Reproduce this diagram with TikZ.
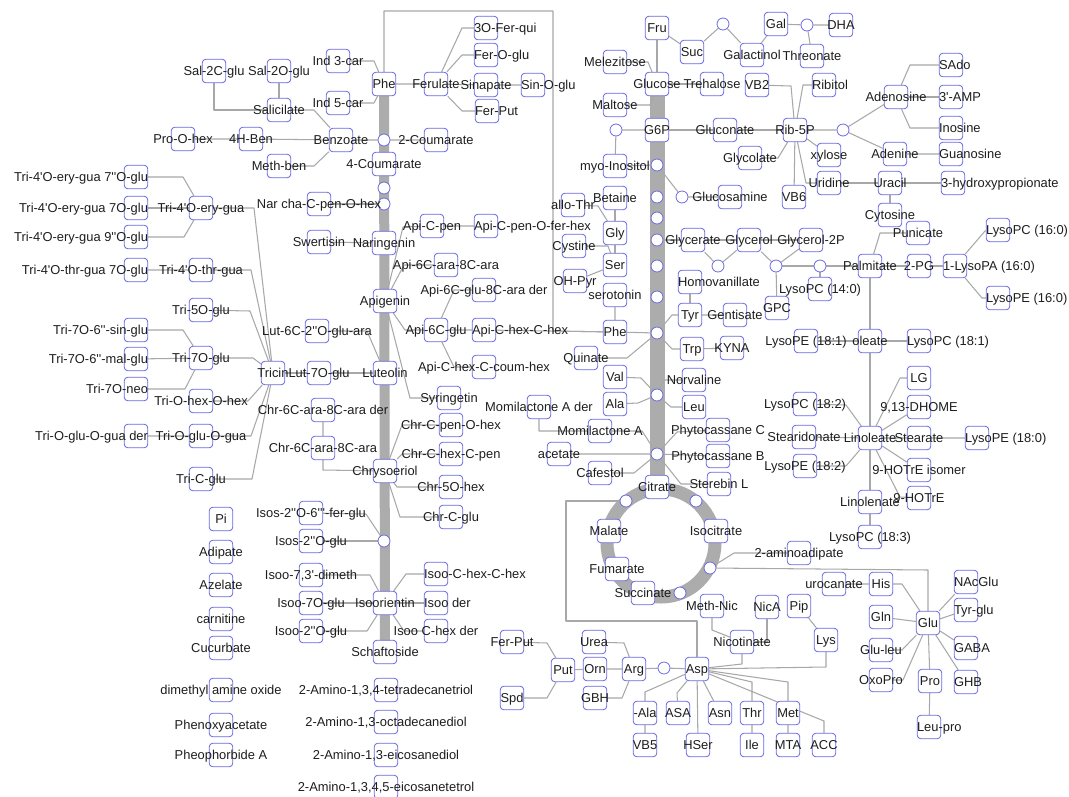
\documentclass[tikz,border=0pt]{standalone}
\usepackage{fontspec}
\setmainfont{Liberation Sans}[Ligatures=TeXOff]
\definecolor{nodeblue}{RGB}{105,105,225}
\definecolor{edgegray}{RGB}{168,168,168}
\definecolor{bargray}{RGB}{172,172,172}
\definecolor{txt}{RGB}{30,30,30}
\pgfdeclarelayer{bg}
\pgfdeclarelayer{boxes}
\pgfsetlayers{bg,boxes,main}
\newcommand\fs{\fontsize{12.9}{14}\selectfont}
\newcommand\mkC[3]{\begin{pgfonlayer}{boxes}\node[box] (#1) at (#2) {};\end{pgfonlayer}\node[lab] (#1-t) at (#1.center) {#3};}
\newcommand\mkL[3]{\begin{pgfonlayer}{boxes}\node[box] (#1) at (#2) {};\end{pgfonlayer}\node[lab,anchor=west] (#1-t) at (#1.west) {#3};}
\newcommand\mkR[3]{\begin{pgfonlayer}{boxes}\node[box] (#1) at (#2) {};\end{pgfonlayer}\node[lab,anchor=east] (#1-t) at (#1.east) {#3};}
\newcommand\mkD[2]{\begin{pgfonlayer}{boxes}\node[dot] (#1) at (#2) {};\end{pgfonlayer}}
\begin{document}
\begin{tikzpicture}[x=1pt,y=-1pt,
 box/.style={rectangle, draw=nodeblue, line width=0.8pt, fill=white, rounded corners=3.5pt, minimum width=23.5pt, minimum height=23.5pt, inner sep=0pt},
 dot/.style={circle, draw=nodeblue, line width=0.8pt, fill=white, minimum size=12pt, inner sep=0pt},
 lab/.style={font=\fs, text=txt, inner sep=0pt, text height=9.2pt, text depth=0pt},
 conn/.style={draw=edgegray, line width=1.05pt, line join=round},
 bar/.style={draw=bargray, line cap=butt}]
\useasboundingbox (0,0) rectangle (1069,796);
% ---------- left part ----------
\mkC{Sal2C}{214,71}{Sal-2C-glu}
\mkC{Sal2O}{279,71}{Sal-2O-glu}
\mkC{Salic}{279,110}{Salicilate}
\mkC{ProOhex}{183,139}{Pro-O-hex}
\mkC{HBen}{251,139}{4H-Ben}
\mkC{Benz}{341,140}{Benzoate}
\mkC{Methben}{279,166}{Meth-ben}
\mkC{Ind3}{338,61}{Ind 3-car}
\mkC{Ind5}{338,103}{Ind 5-car}
\mkC{PheL}{384,84}{Phe}
\mkC{Ferul}{436,84}{Ferulate}
\mkC{Sinap}{486,85}{Sinapate}
\mkL{SinOglu}{533,85}{Sin-O-glu}
\mkL{OFerqui}{486,28}{3O-Fer-qui}
\mkL{FerOglu}{486,55}{Fer-O-glu}
\mkL{FerPutA}{487,111}{Fer-Put}
\mkD{cA}{384,140}
\mkC{Coum2}{436,140}{2-Coumarate}
\mkC{Coum4}{384,164}{4-Coumarate}
\mkD{cB}{384,188}
\mkD{cC}{384,204}
\mkC{Narcha}{319,204}{Nar cha-C-pen-O-hex}
\mkC{Swert}{319,242}{Swertisin}
\mkC{Narin}{384,243}{Naringenin}
\mkC{ApiCpen}{432,226}{Api-C-pen}
\mkL{ApiCpenO}{486,226}{Api-C-pen-O-fer-hex}
\mkC{Api6C8C}{446,265}{Api-6C-ara-8C-ara}
\mkC{Apig}{385,301}{Apigenin}
\mkC{Api6Cglu8}{484,290}{Api-6C-glu-8C-ara der}
\mkC{Api6Cglu}{436,330}{Api-6C-glu}
\mkL{ApiChex}{484,330}{Api-C-hex-C-hex}
\mkC{ApiChexCc}{484,367}{Api-C-hex-C-coum-hex}
\mkC{LutGA}{317,331}{Lut-6C-2''O-glu-ara}
\mkC{Lut7O}{319,373}{Lut-7O-glu}
\mkC{Lute}{385,373}{Luteolin}
\mkC{Syrin}{449,398}{Syringetin}
\mkC{Tricin}{273,373}{Tricin}
\mkR{Tri4Oe7}{136,177}{Tri-4'O-ery-gua 7''O-glu}
\mkR{Tri4Oe7O}{136,208}{Tri-4'O-ery-gua 7O-glu}
\mkR{Tri4Oe9}{136,237}{Tri-4'O-ery-gua 9''O-glu}
\mkC{Tri4Oe}{201,208}{Tri-4'O-ery-gua}
\mkR{Tri4Ot7}{136,270}{Tri-4'O-thr-gua 7O-glu}
\mkC{Tri4Ot}{201,270}{Tri-4'O-thr-gua}
\mkC{Tri5O}{201,310}{Tri-5O-glu}
\mkR{Tri7Osin}{136,330}{Tri-7O-6''-sin-glu}
\mkR{Tri7Omal}{136,359}{Tri-7O-6''-mal-glu}
\mkR{Tri7Oneo}{136,389}{Tri-7O-neo}
\mkC{Tri7O}{201,358}{Tri-7O-glu}
\mkC{TriOhex}{201,401}{Tri-O-hex-O-hex}
\mkR{TriOgluder}{136,436}{Tri-O-glu-O-gua der}
\mkC{TriOglu}{201,436}{Tri-O-glu-O-gua}
\mkC{TriCglu}{201,479}{Tri-C-glu}
\mkC{Chr6Cder}{323,410}{Chr-6C-ara-8C-ara der}
\mkC{Chr6C}{323,448}{Chr-6C-ara-8C-ara}
\mkC{Chryso}{385,471}{Chrysoeriol}
\mkC{ChrCpen}{451,425}{Chr-C-pen-O-hex}
\mkC{ChrChex}{451,454}{Chr-C-hex-C-pen}
\mkC{Chr5O}{451,487}{Chr-5O-hex}
\mkC{ChrCglu}{451,517}{Chr-C-glu}
\mkC{Isos2O6}{311,513}{Isos-2''O-6'''-fer-glu}
\mkC{Isos2O}{311,541}{Isos-2''O-glu}
\mkD{cD}{384,541}
\mkC{Isoo73}{311,575}{Isoo-7,3'-dimeth}
\mkC{Isoor}{385,603}{Isoorientin}
\mkC{Isoo7O}{311,603}{Isoo-7O-glu}
\mkC{Isoo2O}{311,631}{Isoo-2''O-glu}
\mkL{IsooChex}{436,574}{Isoo-C-hex-C-hex}
\mkL{Isooder}{436,603}{Isoo der}
\mkC{IsooCder}{436,631}{Isoo C-hex der}
\mkC{Schaf}{385,652}{Schaftoside}
\mkC{Am1}{386,690}{2-Amino-1,3,4-tetradecanetriol}
\mkC{Am2}{386,722}{2-Amino-1,3-octadecanediol}
\mkC{Am3}{386,755}{2-Amino-1,3-eicosanediol}
\mkC{Am4}{386,787}{2-Amino-1,3,4,5-eicosanetetrol}
\mkC{Pi}{221,519}{Pi}
\mkC{Adipate}{221,552}{Adipate}
\mkC{Azelate}{221,585}{Azelate}
\mkC{carnitine}{221,619}{carnitine}
\mkC{Cucurbate}{221,648}{Cucurbate}
\mkC{DMAO}{221,690}{dimethyl amine oxide}
\mkC{Phenoxy}{221,725}{Phenoxyacetate}
\mkC{Pheo}{221,755}{Pheophorbide A}
% ---------- right part ----------
\mkC{Fru}{657,28}{Fru}
\mkC{Suc}{692,52}{Suc}
\mkD{cE}{723,24}
\mkC{Gal}{776,24}{Gal}
\mkC{Galact}{752,55}{Galactinol}
\mkD{cF}{807,25}
\mkC{DHA}{841,25}{DHA}
\mkC{Threo}{812,56}{Threonate}
\mkC{Melez}{615,62}{Melezitose}
\mkC{Gluc}{657,84}{Glucose}
\mkC{Treh}{712,84}{Trehalose}
\mkC{VB2}{757,85}{VB2}
\mkL{Ribitol}{824,85}{Ribitol}
\mkC{Maltose}{615,105}{Maltose}
\mkC{G6P}{657,130}{G6P}
\mkD{cG}{616,130}
\mkC{Glucon}{725,130}{Gluconate}
\mkC{Rib5P}{795,130}{Rib-5P}
\mkD{cH}{843,130}
\mkC{Adenos}{896,97}{Adenosine}
\mkL{SAdo}{951,65}{SAdo}
\mkL{AMP}{951,97}{3'-AMP}
\mkL{Inosine}{951,128}{Inosine}
\mkC{Adenine}{895,154}{Adenine}
\mkL{Guanos}{951,154}{Guanosine}
\mkC{Glycol}{750,158}{Glycolate}
\mkC{xylose}{829,155}{xylose}
\mkC{VB6}{794,197}{VB6}
\mkC{Uridine}{829,183}{Uridine}
\mkC{Uracil}{890,183}{Uracil}
\mkL{HPA}{953,183}{3-hydroxypropionate}
\mkC{Cytosine}{890,215}{Cytosine}
\mkC{myo}{615,166}{myo-Inositol}
\mkD{cI}{657,165}
\mkD{cJ}{682,197}
\mkC{Glucosam}{730,197}{Glucosamine}
\mkC{Betaine}{615,198}{Betaine}
\mkC{alloThr}{573,205}{allo-Thr}
\mkC{Gly}{615,233}{Gly}
\mkC{Cystine}{574,246}{Cystine}
\mkC{Ser}{615,265}{Ser}
\mkD{cK}{657,197}
\mkD{cL}{657,218}
\mkD{cM}{657,240}
\mkD{cN}{657,266}
\mkC{Glycerate}{693,240}{Glycerate}
\mkC{Glycerol}{749,240}{Glycerol}
\mkC{Glyc2P}{811,240}{Glycerol-2P}
\mkD{cO}{718,266}
\mkD{cP}{776,266}
\mkD{cQ}{820,266}
\mkC{Palmit}{870,266}{Palmitate}
\mkC{Punic}{918,233}{Punicate}
\mkC{PG}{919,266}{2-PG}
\mkL{LPA}{955,266}{1-LysoPA (16:0)}
\mkL{LPC160}{998,230}{LysoPC (16:0)}
\mkL{LPE160}{998,298}{LysoPE (16:0)}
\mkC{LPC140}{820,289}{LysoPC (14:0)}
\mkC{GPC}{777,308}{GPC}
\mkC{OHPyr}{575,281}{OH-Pyr}
\mkC{seroto}{615,295}{serotonin}
\mkD{cR}{657,297}
\mkC{PheR}{615,332}{Phe}
\mkD{cS}{657,333}
\mkC{Quinate}{586,358}{Quinate}
\mkL{Homov}{690,282}{Homovanillate}
\mkC{Tyr}{690,315}{Tyr}
\mkC{Gentis}{735,315}{Gentisate}
\mkC{Trp}{692,349}{Trp}
\mkC{KYNA}{732,348}{KYNA}
\mkC{Val}{615,377}{Val}
\mkC{Ala}{615,404}{Ala}
\mkD{cT}{657,395}
\mkC{Norval}{694,380}{Norvaline}
\mkC{Leu}{694,407}{Leu}
\mkC{PhytoC}{718,430}{Phytocassane C}
\mkC{MomAder}{539,407}{Momilactone A der}
\mkC{MomA}{600,431}{Momilactone A}
\mkC{acetate}{559,454}{acetate}
\mkD{cU}{657,454}
\mkC{PhytoB}{718,456}{Phytocassane B}
\mkC{Cafestol}{600,473}{Cafestol}
\mkC{Sterebin}{719,484}{Sterebin L}
\mkC{Citrate}{657,487}{Citrate}
\mkD{cV}{626,501}
\mkD{cW}{696,501}
\mkC{Malate}{609,531}{Malate}
\mkC{Isocit}{716,531}{Isocitrate}
\mkC{Fumarate}{617,569}{Fumarate}
\mkC{Succin}{643,593}{Succinate}
\mkD{cX}{680,593}
\mkD{cY}{710,568}
\mkC{Aminoad}{799,553}{2-aminoadipate}
\mkC{LPE181}{806,341}{LysoPE (18:1)}
\mkC{oleate}{870,341}{oleate}
\mkL{LPC181}{919,341}{LysoPC (18:1)}
\mkC{LPC182}{805,404}{LysoPC (18:2)}
\mkC{Stearid}{804,437}{Stearidonate}
\mkC{LPE182}{805,466}{LysoPE (18:2)}
\mkC{Linole}{870,438}{Linoleate}
\mkC{LG}{919,378}{LG}
\mkC{DHOME}{919,407}{9,13-DHOME}
\mkC{Stearate}{919,438}{Stearate}
\mkL{LPE180}{977,438}{LysoPE (18:0)}
\mkC{HOTrEi}{919,470}{9-HOTrE isomer}
\mkC{HOTrE}{919,498}{9-HOTrE}
\mkC{Linolen}{870,502}{Linolenate}
\mkC{LPC183}{870,537}{LysoPC (18:3)}
\mkC{MethNic}{712,606}{Meth-Nic}
\mkC{NicA}{767,607}{NicA}
\mkC{Nicot}{742,642}{Nicotinate}
\mkC{Pip}{799,606}{Pip}
\mkC{Lys}{826,640}{Lys}
\mkC{urocan}{834,584}{urocanate}
\mkC{His}{881,584}{His}
\mkC{Gln}{881,617}{Gln}
\mkC{Gluleu}{881,650}{Glu-leu}
\mkC{OxoPro}{881,680}{OxoPro}
\mkC{Glu}{928,623}{Glu}
\mkC{Pro}{930,681}{Pro}
\mkL{Leupro}{929,727}{Leu-pro}
\mkL{NAcGlu}{966,582}{NAcGlu}
\mkL{Tyrglu}{966,610}{Tyr-glu}
\mkL{GABA}{966,648}{GABA}
\mkL{GHB}{966,682}{GHB}
\mkC{FerPutB}{512,642}{Fer-Put}
\mkC{Spd}{512,698}{Spd}
\mkC{Put}{563,670}{Put}
\mkC{Urea}{594,642}{Urea}
\mkC{Orn}{595,669}{Orn}
\mkC{GBH}{595,698}{GBH}
\mkC{Arg}{634,669}{Arg}
\mkD{cZ}{664,668}
\mkC{Asp}{697,669}{Asp}
\mkC{bAla}{645,713}{-Ala}
\mkC{VB5}{645,745}{VB5}
\mkC{ASA}{678,713}{ASA}
\mkC{HSer}{698,745}{HSer}
\mkC{Asn}{720,713}{Asn}
\mkC{Thr}{752,713}{Thr}
\mkC{Ile}{752,745}{Ile}
\mkC{Met}{788,713}{Met}
\mkC{MTA}{788,745}{MTA}
\mkC{ACC}{824,745}{ACC}
% ---------- background: bars and connectors ----------
\begin{pgfonlayer}{bg}
\fill[white] (0,0) rectangle (1069,796);
\draw[bar, line width=10pt] (PheL.center) -- (Schaf.center);
\draw[bar, line width=15pt] (Gluc.center) -- (Citrate.center);
\draw[bar, line width=13pt] (661,543) circle [radius=54pt];
% left
\draw[conn] (Sal2C) -- (214,110) -- (Salic);
\draw[conn] (Sal2O) -- (Salic);
\draw[conn] (Salic) -- (314,110) -- (Benz);
\draw[conn] (Methben) -- (314,166) -- (Benz);
\draw[conn] (ProOhex) -- (HBen) -- (Benz) -- (cA) -- (Coum2);
\draw[conn] (Ind3) -- (374,61) -- (PheL);
\draw[conn] (Ind5) -- (374,103) -- (PheL);
\draw[conn] (PheL) -- (Ferul) -- (Sinap) -- (SinOglu);
\draw[conn] (Ferul) -- (462,28) -- (OFerqui);
\draw[conn] (Ferul) -- (462,55) -- (FerOglu);
\draw[conn] (Ferul) -- (462,111) -- (FerPutA);
\draw[conn] (PheL) -- (384,11) -- (553,11) -- (553,331) -- (PheR);
\draw[conn] (Narcha) -- (cC);
\draw[conn] (Swert) -- (Narin);
\draw[conn] (Apig) -- (403,227) -- (ApiCpen) -- (ApiCpenO);
\draw[conn] (Apig) -- (404,265) -- (Api6C8C);
\draw[conn] (Apig) -- (405,330) -- (Api6Cglu);
\draw[conn] (Api6Cglu) -- (454,290) -- (Api6Cglu8);
\draw[conn] (Api6Cglu) -- (ApiChex) -- (PheR);
\draw[conn] (Api6Cglu) -- (454,367) -- (ApiChexCc);
\draw[conn] (Apig) -- (410,398) -- (Syrin);
\draw[conn] (LutGA) -- (367,331) -- (Lute);
\draw[conn] (Tricin) -- (Lut7O) -- (Lute);
\draw[conn] (Tri4Oe7) -- (183,177) -- (Tri4Oe);
\draw[conn] (Tri4Oe7O) -- (Tri4Oe);
\draw[conn] (Tri4Oe9) -- (184,237) -- (Tri4Oe);
\draw[conn] (Tri4Oe) -- (254,208) -- (Tricin);
\draw[conn] (Tri4Ot7) -- (Tri4Ot) -- (251,270) -- (Tricin);
\draw[conn] (Tri5O) -- (250,311) -- (Tricin);
\draw[conn] (Tri7Osin) -- (183,330) -- (Tri7O);
\draw[conn] (Tri7Omal) -- (Tri7O);
\draw[conn] (Tri7Oneo) -- (185,389) -- (Tri7O);
\draw[conn] (Tri7O) -- (253,358) -- (Tricin);
\draw[conn] (TriOhex) -- (248,401) -- (Tricin);
\draw[conn] (TriOgluder) -- (TriOglu) -- (251,436) -- (Tricin);
\draw[conn] (TriCglu) -- (252,479) -- (Tricin);
\draw[conn] (Chr6Cder) -- (Chr6C) -- (323,470) -- (Chryso);
\draw[conn] (Chryso) -- (402,425) -- (ChrCpen);
\draw[conn] (Chryso) -- (402,454) -- (ChrChex);
\draw[conn] (Chryso) -- (397,487) -- (Chr5O);
\draw[conn] (Chryso) -- (400,517) -- (ChrCglu);
\draw[conn] (Isos2O6) -- (366,514) -- (cD);
\draw[conn] (Isos2O) -- (cD);
\draw[conn] (Isoo73) -- (370,575) -- (Isoor);
\draw[conn] (Isoo7O) -- (Isoor) -- (Isooder);
\draw[conn] (Isoo2O) -- (367,631) -- (Isoor);
\draw[conn] (Isoor) -- (406,574) -- (IsooChex);
\draw[conn] (Isoor) -- (404,631) -- (IsooCder);
% right
\draw[conn] (Fru) -- (Gluc);
\draw[conn] (Fru) -- (Suc) -- (cE) -- (Galact);
\draw[conn] (Gal) -- (Galact);
\draw[conn] (Gal) -- (cF) -- (DHA);
\draw[conn] (cF) -- (Threo);
\draw[conn] (Melez) -- (648,62) -- (Gluc);
\draw[conn] (Maltose) -- (650,105) -- (Gluc);
\draw[conn] (Gluc) -- (Treh);
\draw[conn] (VB2) -- (791,86) -- (Rib5P);
\draw[conn] (G6P) -- (Glucon) -- (Rib5P);
\draw[conn] (G6P) -- (cG) -- (myo);
\draw[conn] (Glycol) -- (778,158) -- (Rib5P);
\draw[conn] (Ribitol) -- (803,85) -- (Rib5P);
\draw[conn] (Rib5P) -- (VB6);
\draw[conn] (Rib5P) -- (xylose);
\draw[conn] (Rib5P) -- (806,183) -- (Uridine);
\draw[conn] (Rib5P) -- (cH) -- (Adenos);
\draw[conn] (cH) -- (Adenine) -- (Guanos);
\draw[conn] (Adenos) -- (910,65) -- (SAdo);
\draw[conn] (Adenos) -- (AMP);
\draw[conn] (Adenos) -- (910,128) -- (Inosine);
\draw[conn] (Uridine) -- (Uracil) -- (HPA);
\draw[conn] (Uracil) -- (Cytosine);
\draw[conn] (myo) -- (cI) -- (cJ) -- (Glucosam);
\draw[conn] (Betaine) -- (Gly) -- (Ser);
\draw[conn] (alloThr) -- (598,206) -- (Gly);
\draw[conn] (Cystine) -- (608,246) -- (Ser);
\draw[conn] (OHPyr) -- (Ser);
\draw[conn] (cM) -- (Glycerate) -- (Glycerol) -- (Glyc2P);
\draw[conn] (Glycerate) -- (cO) -- (Glycerol);
\draw[conn] (Glycerol) -- (cP) -- (Glyc2P);
\draw[conn] (cP) -- (GPC);
\draw[conn] (cP) -- (cQ) -- (Palmit);
\draw[conn] (cQ) -- (LPC140);
\draw[conn] (Palmit) -- (880,233) -- (Punic);
\draw[conn] (Palmit) -- (PG) -- (LPA);
\draw[conn] (LPA) -- (985,231) -- (LPC160);
\draw[conn] (LPA) -- (982,298) -- (LPE160);
\draw[conn] (Palmit) -- (oleate) -- (Linole) -- (Linolen) -- (LPC183);
\draw[conn] (LPE181) -- (oleate) -- (LPC181);
\draw[conn] (LPC182) -- (846,405) -- (Linole);
\draw[conn] (Stearid) -- (Linole) -- (Stearate) -- (LPE180);
\draw[conn] (LPE182) -- (846,466) -- (Linole);
\draw[conn] (Linole) -- (900,378) -- (LG);
\draw[conn] (Linole) -- (DHOME);
\draw[conn] (Linole) -- (HOTrEi);
\draw[conn] (Linole) -- (900,497) -- (HOTrE);
\draw[conn] (seroto) -- (PheR) -- (cS);
\draw[conn] (Quinate) -- (627,358) -- (cS);
\draw[conn] (cS) -- (672,315) -- (Tyr) -- (Gentis);
\draw[conn] (Homov) -- (Tyr);
\draw[conn] (cS) -- (672,349) -- (Trp) -- (KYNA);
\draw[conn] (Val) -- (641,378) -- (cT);
\draw[conn] (Ala) -- (638,403) -- (cT);
\draw[conn] (cT) -- (664,380) -- (Norval);
\draw[conn] (cT) -- (671,407) -- (Leu);
\draw[conn] (MomAder) -- (539,431) -- (MomA) -- (642,431) -- (cU);
\draw[conn] (acetate) -- (cU) -- (PhytoB);
\draw[conn] (Cafestol) -- (634,473) -- (cU);
\draw[conn] (cU) -- (677,432) -- (PhytoC);
\draw[conn] (cU) -- (681,484) -- (Sterebin);
\draw[conn] (cV) -- (566,501) -- (566,621) -- (697,621) -- (Asp);
\draw[conn] (cY) -- (734,553) -- (Aminoad);
\draw[conn] (cY) -- (928,570) -- (Glu);
\draw[conn] (MethNic) -- (712,630) -- (Nicot);
\draw[conn] (NicA) -- (767,642) -- (Nicot);
\draw[conn] (Nicot) -- (742,664) -- (Asp);
\draw[conn] (Asp) -- (cZ) -- (Arg) -- (Orn) -- (Put);
\draw[conn] (Urea) -- (624,643) -- (Arg);
\draw[conn] (GBH) -- (622,698) -- (Arg);
\draw[conn] (FerPutB) -- (547,643) -- (Put);
\draw[conn] (Spd) -- (547,698) -- (Put);
\draw[conn] (Asp) -- (826,667) -- (Lys);
\draw[conn] (Pip) -- (Lys);
\draw[conn] (Asp) -- (645,692) -- (bAla) -- (VB5);
\draw[conn] (Asp) -- (677,693) -- (ASA);
\draw[conn] (Asp) -- (HSer);
\draw[conn] (Asp) -- (Asn);
\draw[conn] (Asp) -- (752,682) -- (Thr) -- (Ile);
\draw[conn] (Asp) -- (788,682) -- (Met) -- (MTA);
\draw[conn] (Asp) -- (824,721) -- (ACC);
\draw[conn] (urocan) -- (His) -- (902,584) -- (Glu);
\draw[conn] (Gln) -- (Glu);
\draw[conn] (Gluleu) -- (902,650) -- (Glu);
\draw[conn] (OxoPro) -- (903,680) -- (Glu);
\draw[conn] (Glu) -- (Pro) -- (Leupro);
\draw[conn] (Glu) -- (NAcGlu);
\draw[conn] (Glu) -- (Tyrglu);
\draw[conn] (Glu) -- (GABA);
\draw[conn] (Glu) -- (GHB);
\end{pgfonlayer}
\end{tikzpicture}
\end{document}
